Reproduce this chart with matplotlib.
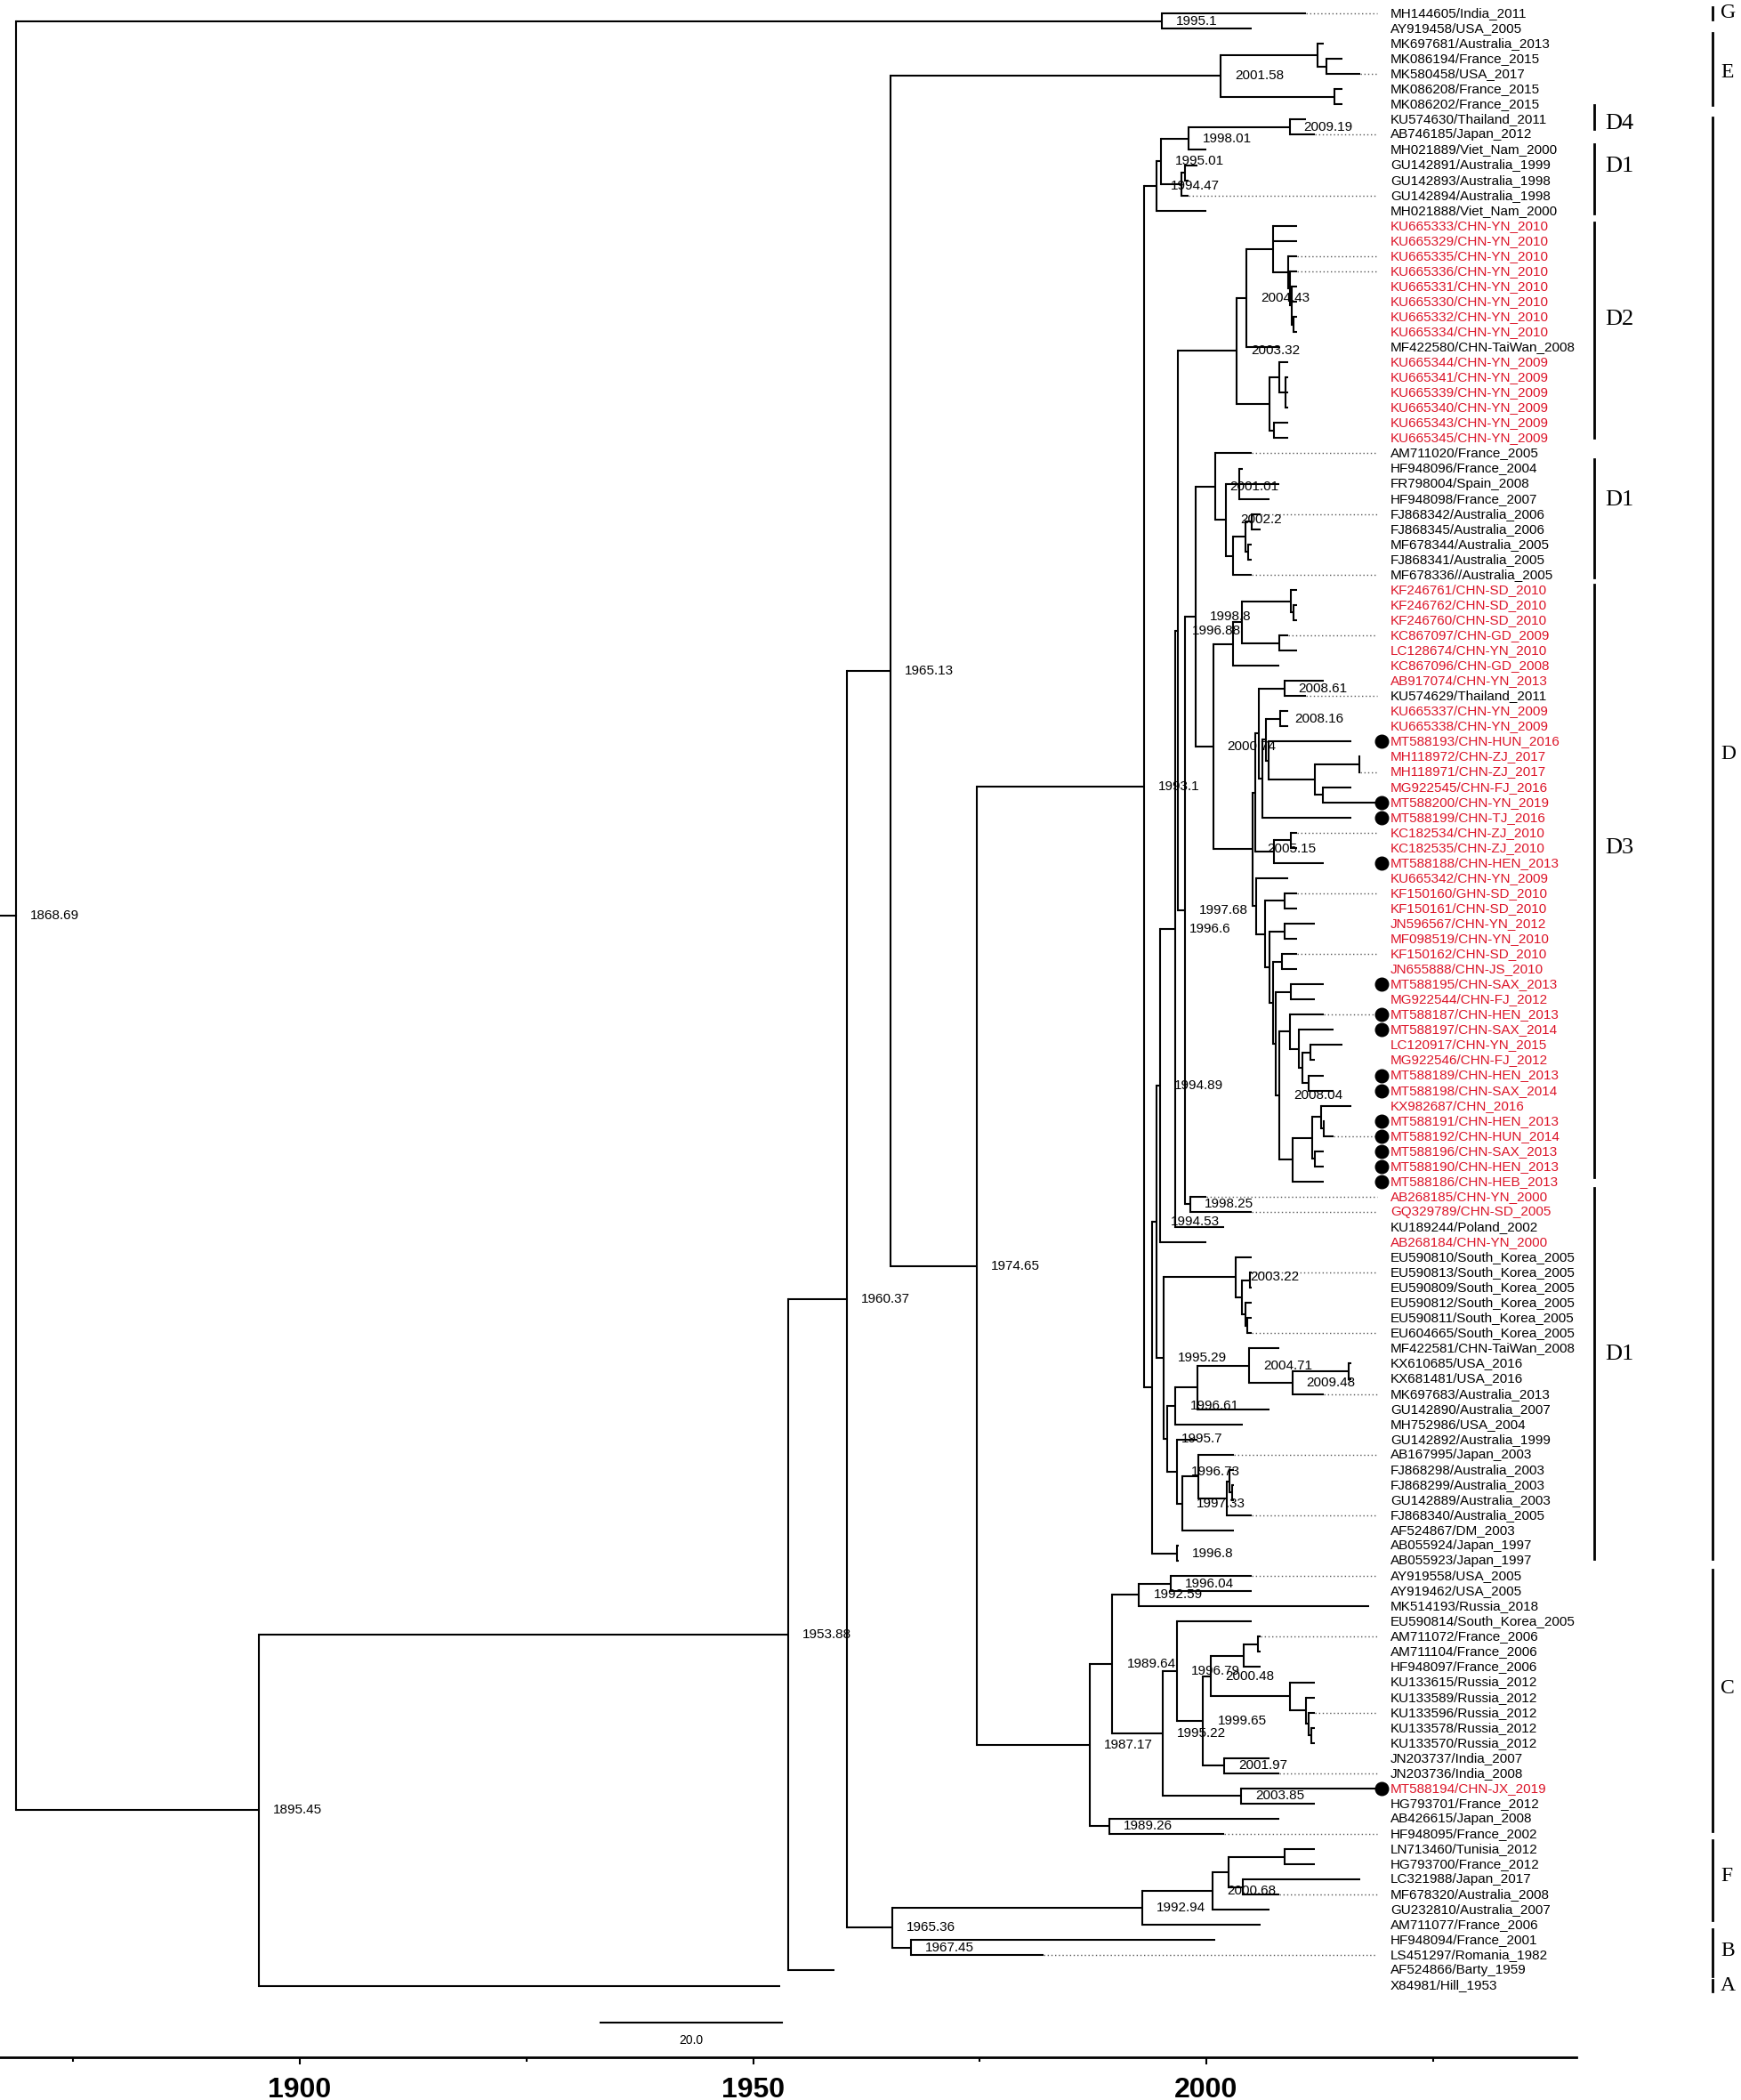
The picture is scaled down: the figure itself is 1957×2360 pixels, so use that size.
import matplotlib
matplotlib.use("Agg")
import matplotlib.pyplot as plt

# --------------------------------------------------
# Leaves, top to bottom (tip sits at the sampling year in the name)
# --------------------------------------------------
leaf_names = [
    "MH144605/India_2011", "AY919458/USA_2005",
    "MK697681/Australia_2013", "MK086194/France_2015", "MK580458/USA_2017",
    "MK086208/France_2015", "MK086202/France_2015",
    "KU574630/Thailand_2011", "AB746185/Japan_2012", "MH021889/Viet_Nam_2000",
    "GU142891/Australia_1999", "GU142893/Australia_1998", "GU142894/Australia_1998",
    "MH021888/Viet_Nam_2000",
    "KU665333/CHN-YN_2010", "KU665329/CHN-YN_2010", "KU665335/CHN-YN_2010",
    "KU665336/CHN-YN_2010", "KU665331/CHN-YN_2010", "KU665330/CHN-YN_2010",
    "KU665332/CHN-YN_2010", "KU665334/CHN-YN_2010", "MF422580/CHN-TaiWan_2008",
    "KU665344/CHN-YN_2009", "KU665341/CHN-YN_2009", "KU665339/CHN-YN_2009",
    "KU665340/CHN-YN_2009", "KU665343/CHN-YN_2009", "KU665345/CHN-YN_2009",
    "AM711020/France_2005", "HF948096/France_2004", "FR798004/Spain_2008",
    "HF948098/France_2007", "FJ868342/Australia_2006", "FJ868345/Australia_2006",
    "MF678344/Australia_2005", "FJ868341/Australia_2005", "MF678336//Australia_2005",
    "KF246761/CHN-SD_2010", "KF246762/CHN-SD_2010", "KF246760/CHN-SD_2010",
    "KC867097/CHN-GD_2009", "LC128674/CHN-YN_2010", "KC867096/CHN-GD_2008",
    "AB917074/CHN-YN_2013", "KU574629/Thailand_2011", "KU665337/CHN-YN_2009",
    "KU665338/CHN-YN_2009", "MT588193/CHN-HUN_2016", "MH118972/CHN-ZJ_2017",
    "MH118971/CHN-ZJ_2017", "MG922545/CHN-FJ_2016", "MT588200/CHN-YN_2019",
    "MT588199/CHN-TJ_2016", "KC182534/CHN-ZJ_2010", "KC182535/CHN-ZJ_2010",
    "MT588188/CHN-HEN_2013", "KU665342/CHN-YN_2009", "KF150160/GHN-SD_2010",
    "KF150161/CHN-SD_2010", "JN596567/CHN-YN_2012", "MF098519/CHN-YN_2010",
    "KF150162/CHN-SD_2010", "JN655888/CHN-JS_2010", "MT588195/CHN-SAX_2013",
    "MG922544/CHN-FJ_2012", "MT588187/CHN-HEN_2013", "MT588197/CHN-SAX_2014",
    "LC120917/CHN-YN_2015", "MG922546/CHN-FJ_2012", "MT588189/CHN-HEN_2013",
    "MT588198/CHN-SAX_2014", "KX982687/CHN_2016", "MT588191/CHN-HEN_2013",
    "MT588192/CHN-HUN_2014", "MT588196/CHN-SAX_2013", "MT588190/CHN-HEN_2013",
    "MT588186/CHN-HEB_2013", "AB268185/CHN-YN_2000", "GQ329789/CHN-SD_2005",
    "KU189244/Poland_2002", "AB268184/CHN-YN_2000",
    "EU590810/South_Korea_2005", "EU590813/South_Korea_2005",
    "EU590809/South_Korea_2005", "EU590812/South_Korea_2005",
    "EU590811/South_Korea_2005", "EU604665/South_Korea_2005",
    "MF422581/CHN-TaiWan_2008", "KX610685/USA_2016", "KX681481/USA_2016",
    "MK697683/Australia_2013", "GU142890/Australia_2007", "MH752986/USA_2004",
    "GU142892/Australia_1999", "AB167995/Japan_2003", "FJ868298/Australia_2003",
    "FJ868299/Australia_2003", "GU142889/Australia_2003", "FJ868340/Australia_2005",
    "AF524867/DM_2003", "AB055924/Japan_1997", "AB055923/Japan_1997",
    "AY919558/USA_2005", "AY919462/USA_2005", "MK514193/Russia_2018",
    "EU590814/South_Korea_2005", "AM711072/France_2006", "AM711104/France_2006",
    "HF948097/France_2006", "KU133615/Russia_2012", "KU133589/Russia_2012",
    "KU133596/Russia_2012", "KU133578/Russia_2012", "KU133570/Russia_2012",
    "JN203737/India_2007", "JN203736/India_2008", "MT588194/CHN-JX_2019",
    "HG793701/France_2012", "AB426615/Japan_2008", "HF948095/France_2002",
    "LN713460/Tunisia_2012", "HG793700/France_2012", "LC321988/Japan_2017",
    "MF678320/Australia_2008", "GU232810/Australia_2007", "AM711077/France_2006",
    "HF948094/France_2001", "LS451297/Romania_1982", "AF524866/Barty_1959",
    "X84981/Hill_1953",
]

# leaf rows printed in red (first, last)
red_rows = [(14, 21), (23, 28), (38, 44), (46, 79), (81, 81), (117, 117)]

# isolates marked with a black dot
dot_ids = ["MT588193", "MT588200", "MT588199", "MT588188", "MT588195",
           "MT588187", "MT588197", "MT588189", "MT588198", "MT588191",
           "MT588192", "MT588196", "MT588190", "MT588186", "MT588194"]

# tips joined to their label by a dotted line
dotted_ids = ["MH144605", "MK580458", "AB746185", "GU142894", "KU665335",
              "KU665336", "AM711020", "FJ868342", "MF678336", "KC867097",
              "KU574629", "MH118971", "KC182534", "KF150160", "KF150162",
              "MT588187", "MT588192", "AB268185", "GQ329789", "EU590813",
              "EU604665", "MK697683", "AB167995", "FJ868340", "AY919558",
              "AM711072", "KU133596", "JN203736", "HF948095", "MF678320",
              "LS451297"]

# internal nodes: (first leaf, last leaf, node date, date printed)
clades = [
    (0, 130, 1868.69, True), (0, 1, 1995.1, True), (2, 130, 1895.45, True),
    (2, 129, 1953.88, True), (2, 128, 1960.37, True), (2, 120, 1965.13, True),
    (2, 6, 2001.58, True), (2, 4, 2012.3, False), (3, 4, 2013.2, False),
    (5, 6, 2014.1, False),
    (7, 120, 1974.65, True), (7, 102, 1993.1, True),
    (7, 13, 1994.47, True), (7, 12, 1995.01, True), (7, 9, 1998.01, True),
    (7, 8, 2009.19, True), (10, 12, 1997.3, False), (10, 11, 1997.6, False),
    (14, 102, 1994.0, False), (14, 100, 1994.53, True), (14, 81, 1994.89, True),
    (14, 80, 1996.6, True), (14, 79, 1996.88, True),
    (14, 28, 2003.32, True), (14, 22, 2004.43, True), (14, 21, 2007.4, False),
    (16, 21, 2009.0, False), (17, 21, 2009.2, False), (18, 21, 2009.4, False),
    (20, 21, 2009.6, False), (23, 28, 2007.0, False), (23, 26, 2008.0, False),
    (24, 26, 2008.7, False), (27, 28, 2007.5, False),
    (29, 79, 1997.68, True), (29, 77, 1998.8, True),
    (29, 37, 2001.01, True), (30, 37, 2002.2, True), (30, 32, 2003.6, False),
    (33, 37, 2002.9, False), (33, 36, 2004.3, False), (33, 34, 2005.0, False),
    (35, 36, 2004.6, False),
    (38, 77, 2000.74, True), (38, 43, 2002.9, False), (38, 42, 2003.9, False),
    (38, 40, 2009.3, False), (39, 40, 2009.6, False), (41, 42, 2008.0, False),
    (44, 77, 2005.15, True), (44, 56, 2005.4, False), (44, 53, 2005.8, False),
    (44, 45, 2008.61, True), (46, 53, 2006.2, False), (46, 52, 2006.6, False),
    (48, 52, 2006.9, False), (46, 47, 2008.16, True), (49, 52, 2012.0, False),
    (49, 50, 2016.9, False), (51, 52, 2012.9, False), (54, 56, 2007.5, False),
    (54, 55, 2009.3, False),
    (57, 77, 2005.5, False), (58, 77, 2006.5, False), (58, 59, 2008.6, False),
    (60, 77, 2007.0, False), (60, 61, 2008.6, False), (62, 77, 2007.4, False),
    (62, 63, 2008.3, False), (64, 77, 2007.7, False), (64, 65, 2009.3, False),
    (66, 77, 2008.04, True), (66, 71, 2009.2, False), (67, 71, 2010.2, False),
    (68, 71, 2010.6, False), (68, 69, 2011.5, False), (70, 71, 2011.3, False),
    (72, 77, 2009.5, False), (72, 76, 2011.7, False), (72, 74, 2012.7, False),
    (73, 74, 2013.0, False), (75, 76, 2012.0, False),
    (78, 79, 1998.25, True),
    (82, 100, 1995.29, True), (82, 87, 2003.22, True), (83, 87, 2003.9, False),
    (83, 84, 2004.8, False), (85, 87, 2004.3, False), (86, 87, 2004.5, False),
    (88, 100, 1995.7, True), (88, 93, 1996.61, True), (88, 92, 1999.0, False),
    (88, 91, 2004.71, True), (89, 91, 2009.48, True), (89, 90, 2015.7, False),
    (94, 100, 1996.73, True), (95, 100, 1997.33, True), (95, 99, 1999.1, False),
    (96, 99, 2002.3, False), (96, 98, 2002.6, False), (97, 98, 2002.8, False),
    (101, 102, 1996.8, True),
    (103, 120, 1987.17, True), (103, 118, 1989.64, True), (103, 105, 1992.59, True),
    (103, 104, 1996.04, True), (106, 118, 1995.22, True), (106, 116, 1996.79, True),
    (107, 116, 1999.65, True), (107, 114, 2000.48, True), (107, 109, 2004.1, False),
    (107, 108, 2005.7, False), (110, 114, 2009.2, False), (111, 114, 2011.0, False),
    (112, 114, 2011.3, False), (113, 114, 2011.6, False), (115, 116, 2001.97, True),
    (117, 118, 2003.85, True), (119, 120, 1989.26, True),
    (121, 128, 1965.36, True), (121, 126, 1992.94, True), (121, 125, 2000.68, True),
    (121, 124, 2002.5, False), (121, 122, 2008.6, False), (123, 124, 2004.0, False),
    (127, 128, 1967.45, True),
]

# clade bars on the right: (name, first row, last row, row of the name)
inner_bars = [("D4", 6.04, 7.62, 7.3), ("D1", 8.6, 13.2, 10.1),
              ("D2", 13.8, 28.0, 20.2), ("D1", 29.4, 37.2, 32.1),
              ("D3", 37.65, 76.7, 55.0), ("D1", 77.4, 101.9, 88.4)]
outer_bars = [("G", -0.4, 0.4, 0.0), ("E", 1.29, 6.04, 3.9),
              ("D", 6.86, 101.9, 48.8), ("C", 102.6, 119.8, 110.4),
              ("F", 120.4, 125.7, 122.8), ("B", 126.3, 129.4, 127.7),
              ("A", 129.6, 130.4, 130.0)]

major_years = [1900, 1950, 2000]
minor_years = [1875, 1925, 1975, 2025]
scale_years = 20.0

# --------------------------------------------------
# Scales: x = calendar year, y = leaf row
# --------------------------------------------------
W, H = 1958, 2360
PX_YEAR = 10.19
ROW_PX = 17.05
X0 = 1900 - 337 / PX_YEAR
Y0 = -15 / ROW_PX
RED = "#dc1428"
LW = 1.5
SANS = "Liberation Sans"
SERIF = "Liberation Serif"

fig = plt.figure(figsize=(W / 100, H / 100), dpi=100)
ax = fig.add_axes([0, 0, 1, 1])
ax.set_xlim(X0, X0 + W / PX_YEAR)
ax.set_ylim(Y0 + H / ROW_PX, Y0)
ax.axis("off")

leaf_year = [int(n[-4:]) for n in leaf_names]
spans = [(c[0], c[1]) for c in clades]
date_of = {(c[0], c[1]): c[2] for c in clades}


def kids_of(span):
    a, b = span
    inside = [s for s in spans if a <= s[0] and s[1] <= b and s != span]
    top = [s for s in inside
           if not any(t != s and t[0] <= s[0] and s[1] <= t[1] for t in inside)]
    out, i = [], a
    while i <= b:
        s = next((t for t in top if t[0] == i), None)
        if s:
            out.append(s)
            i = s[1] + 1
        else:
            out.append(i)
            i += 1
    return out


ypos = {}


def node_y(k):
    if isinstance(k, int):
        return k
    if k not in ypos:
        ch = kids_of(k)
        ypos[k] = (node_y(ch[0]) + node_y(ch[-1])) / 2
    return ypos[k]


def node_x(k):
    return leaf_year[k] if isinstance(k, int) else date_of[k]


# --------------------------------------------------
# Tree
# --------------------------------------------------
for a, b, date, show in clades:
    ch = kids_of((a, b))
    ax.plot([date, date], [node_y(ch[0]), node_y(ch[-1])], color="black",
            lw=LW, solid_capstyle="projecting")
    for k in ch:
        ax.plot([date, node_x(k)], [node_y(k), node_y(k)], color="black",
                lw=LW, solid_capstyle="butt")
    if show:
        ax.text(date + 1.57, node_y((a, b)), f"{date:g}", fontsize=11,
                family=SANS, ha="left", va="center")

root = spans[0]
ax.plot([X0, date_of[root]], [node_y(root)] * 2, color="black", lw=LW)

# --------------------------------------------------
# Tip labels, dotted connectors, dots
# --------------------------------------------------
LABEL_X = 2020.31
DOT_X = 2019.33
DOTTED_END = 2018.8
for i, name in enumerate(leaf_names):
    acc = name.split("/")[0]
    red = any(a <= i <= b for a, b in red_rows)
    ax.text(LABEL_X, i, name, fontsize=11, family=SANS, ha="left", va="center",
            color=RED if red else "black")
    if acc in dotted_ids:
        ax.plot([leaf_year[i], DOTTED_END], [i, i], color="#555555", lw=1.0,
                ls=(0, (1, 2)))
    if acc in dot_ids:
        ax.plot(DOT_X, i, "o", ms=10.5, color="black", mec="black")

# --------------------------------------------------
# Clade bars
# --------------------------------------------------
INNER_X, OUTER_X = 2042.79, 2055.84
for name, y1, y2, yl in inner_bars:
    ax.plot([INNER_X, INNER_X], [y1, y2], color="black", lw=2)
    ax.text(INNER_X + 1.2, yl, name, fontsize=19, family=SERIF,
            ha="left", va="center")
for name, y1, y2, yl in outer_bars:
    ax.plot([OUTER_X, OUTER_X], [y1, y2], color="black", lw=2)
    ax.text(OUTER_X + 0.9, yl, name, fontsize=17, family=SERIF,
            ha="left", va="center")

# scale bar
sb_x1 = 1900 + (675 - 337) / PX_YEAR
ax.plot([sb_x1, sb_x1 + scale_years], [132.44, 132.44], color="black", lw=1.5)
ax.text(sb_x1 + scale_years / 2, 133.6, f"{scale_years:.1f}", fontsize=10,
        family=SANS, ha="center", va="center")

# --------------------------------------------------
# Time axis
# --------------------------------------------------
ax2 = fig.add_axes([0, 1 - 2312 / H, 1772 / W, 0.0001])
ax2.set_xlim(X0, X0 + 1772 / PX_YEAR)
for s in ["top", "left", "right"]:
    ax2.spines[s].set_visible(False)
ax2.spines["bottom"].set_linewidth(2)
ax2.patch.set_visible(False)
ax2.set_yticks([])
ax2.set_xticks(major_years)
ax2.set_xticks(minor_years, minor=True)
ax2.tick_params(axis="x", which="major", length=6, width=1.5, pad=10,
                labelsize=23)
ax2.tick_params(axis="x", which="minor", length=3.5, width=1.5)
for t in ax2.get_xticklabels():
    t.set_family(SANS)
    t.set_weight("bold")

fig.savefig("out.png", dpi=100)
